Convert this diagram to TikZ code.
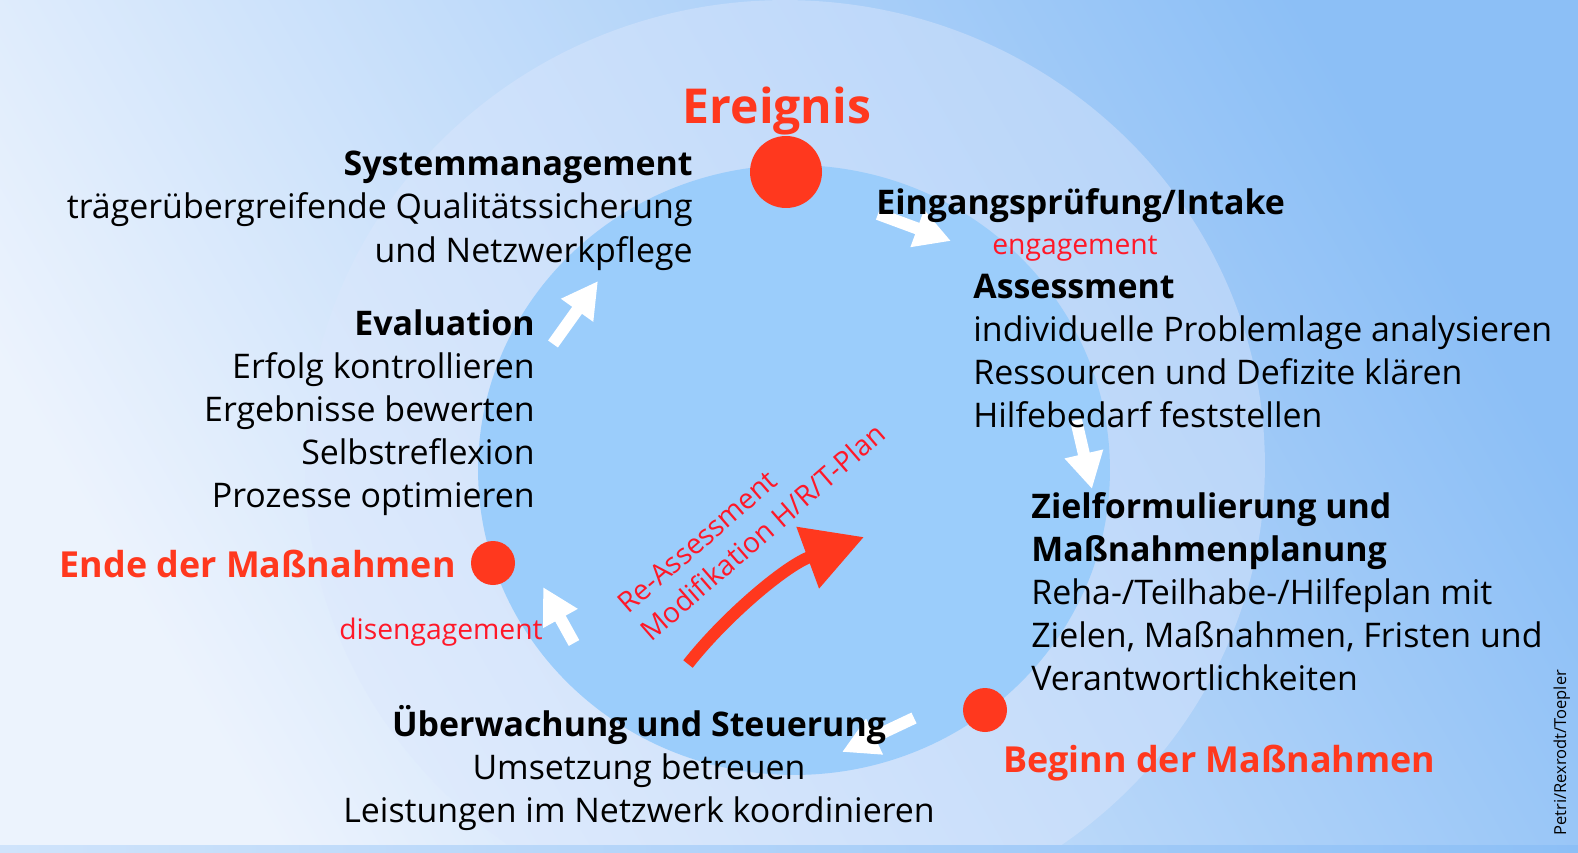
\documentclass[tikz,border=0pt]{standalone}
\usepackage{fontspec}
\setmainfont{Open Sans}
\usetikzlibrary{arrows.meta}
\definecolor{bglight}{RGB}{236,243,253}
\definecolor{bgdark}{RGB}{140,191,246}
\definecolor{ringlight}{RGB}{222,234,252}
\definecolor{ringdark}{RGB}{184,213,249}
\definecolor{cycleblue}{RGB}{155,205,251}
\definecolor{eventred}{RGB}{255,56,30}
\definecolor{notered}{RGB}{255,24,40}
\newcommand{\bodysize}{\fontsize{19.3}{24.5}\selectfont}
\begin{document}
\begin{tikzpicture}[x=0.02cm, y=-0.02cm, line join=round,
    txt/.style={inner sep=0pt, font=\bodysize},
    hint/.style={inner sep=0pt, text=notered, font=\fontsize{16.1}{18}\selectfont},
    milestone/.style={inner sep=0pt, text=eventred, font=\fontsize{20.4}{22}\selectfont\bfseries},
    dot/.style={circle, fill=eventred, inner sep=0pt},
    flow/.style={white, line width=0.24cm, -{Triangle[length=0.72cm, width=0.74cm]}},
    back/.style={eventred, line width=0.24cm, -{Triangle[length=1.2cm, width=1.25cm]}}]
  \useasboundingbox (0,0) rectangle (1578,852);
  \clip (0,0) rectangle (1578,852);
  % background, outer ring, cycle
  \shade[top color=bgdark, bottom color=bglight, shading angle=-60] (0,0) rectangle (1578,852);
  \shade[top color=ringdark, bottom color=ringlight, shading angle=-60] (785,465) ellipse [x radius=9.6cm, y radius=9.3cm];
  \shade[left color=bglight!70!bgdark, right color=bgdark] (0,845) rectangle (1578,852);
  \fill[cycleblue] (794,470) ellipse [x radius=6.32cm, y radius=6.1cm];
  % milestones on the cycle
  \node[dot, minimum size=1.44cm] (evdot) at (786,172) {};
  \node[dot, minimum size=0.88cm] (enddot) at (493,563) {};
  \node[dot, minimum size=0.88cm] (startdot) at (985,710) {};
  % white arrows along the cycle
  \coordinate (eng0) at (878,214);  \coordinate (eng1) at (951,241);
  \coordinate (plan0) at (1076,420); \coordinate (plan1) at (1092,489);
  \coordinate (mon0) at (914,718);  \coordinate (mon1) at (842,752);
  \coordinate (dis0) at (574,643);  \coordinate (dis1) at (543,587);
  \coordinate (sys0) at (553,344);  \coordinate (sys1) at (598,281);
  \foreach \s in {eng,plan,mon,dis,sys} \draw[flow] (\s0) -- (\s1);
  \coordinate (re0) at (688,664); \coordinate (re1) at (864,537);
  \draw[back] (re0) .. controls (725,617) and (785,566) .. (re1);
  % texts
  \node[milestone, anchor=base, font=\fontsize{27.4}{30}\selectfont\bfseries] (event) at (777,123) {Ereignis};
  \node[txt, anchor=north east, align=right] (sysm) at (693,151) {\textbf{Systemmanagement}\\trägerübergreifende Qualitätssicherung\\und Netzwerkpflege};
  \node[txt, anchor=base west] (intake) at (876,214) {\textbf{Eingangsprüfung/Intake}};
  \node[hint, anchor=base west] (engage) at (992,254) {engagement};
  \node[txt, anchor=north west, align=left] (assess) at (973,274) {\textbf{Assessment}\\individuelle Problemlage analysieren\\Ressourcen und Defizite klären\\Hilfebedarf feststellen};
  \node[txt, anchor=north west, align=left] (goals) at (1031,492) {\textbf{Zielformulierung und}\\\textbf{Maßnahmenplanung}\\Reha-/Teilhabe-/Hilfeplan mit\\Zielen, Maßnahmen, Fristen und\\Verantwortlichkeiten};
  \node[milestone, anchor=base west] (start) at (1003,772) {Beginn der Maßnahmen};
  \node[txt, anchor=north, align=center] (monitor) at (639,705) {\textbf{Überwachung und Steuerung}\\Umsetzung betreuen\\Leistungen im Netzwerk koordinieren};
  \node[milestone, anchor=base east] (finish) at (456,577) {Ende der Maßnahmen};
  \node[hint, anchor=base east] (disengage) at (543,639) {disengagement};
  \node[txt, anchor=north east, align=right] (evalu) at (535,309) {\textbf{Evaluation}\\Erfolg kontrollieren\\Ergebnisse bewerten\\Selbstreflexion\\Prozesse optimieren};
  \node[hint, anchor=base west, rotate=41] (reass) at (628,615) {Re-Assessment};
  \node[hint, anchor=base west, rotate=41] (modif) at (651,643) {Modifikation H/R/T-Plan};
  \node[anchor=base west, rotate=90, inner sep=0pt, font=\fontsize{9.4}{10}\selectfont] (credit) at (1566,836) {Petri/Rexrodt/Toepler};
\end{tikzpicture}
\end{document}
